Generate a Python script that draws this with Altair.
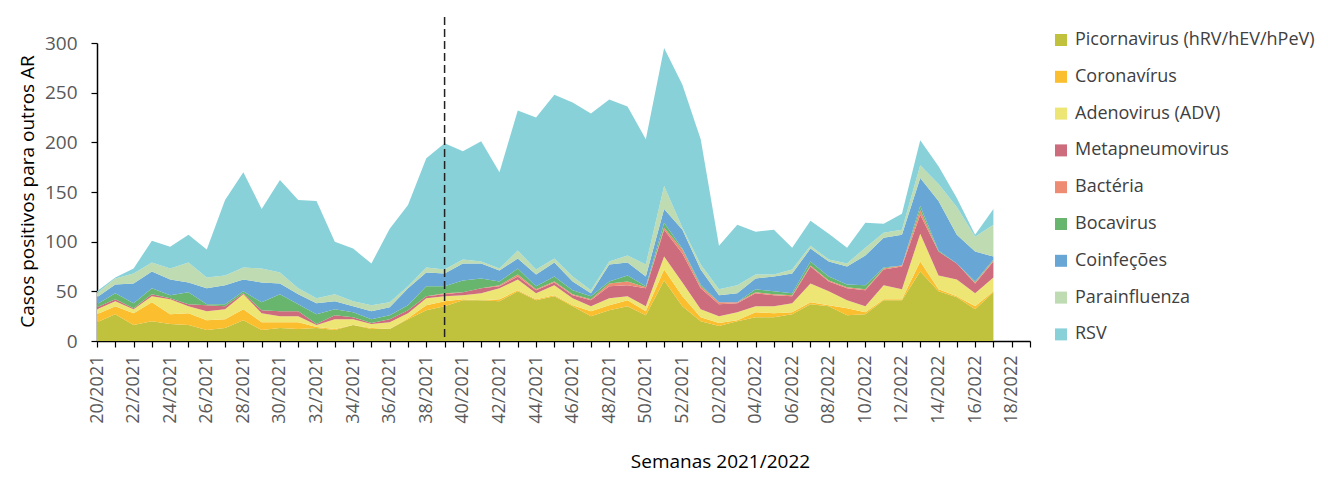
import altair as alt
import pandas as pd

weeks = ["20/2021", "21/2021", "22/2021", "23/2021", "24/2021", "25/2021", "26/2021", "27/2021",
         "28/2021", "29/2021", "30/2021", "31/2021", "32/2021", "33/2021", "34/2021", "35/2021",
         "36/2021", "37/2021", "38/2021", "39/2021", "40/2021", "41/2021", "42/2021", "43/2021",
         "44/2021", "45/2021", "46/2021", "47/2021", "48/2021", "49/2021", "50/2021", "51/2021",
         "52/2021", "01/2022", "02/2022", "03/2022", "04/2022", "05/2022", "06/2022", "07/2022",
         "08/2022", "09/2022", "10/2022", "11/2022", "12/2022", "13/2022", "14/2022", "15/2022",
         "16/2022", "17/2022", "18/2022", "19/2022"]

series_names = ["Picornavirus (hRV/hEV/hPeV)", "Coronavírus", "Adenovirus (ADV)", "Metapneumovirus",
                "Bactéria", "Bocavirus", "Coinfeções", "Parainfluenza", "RSV"]
colors = ["#C0C13C", "#FBBE2E", "#EDE675", "#CC6C7D", "#EE8C73", "#68B66E", "#68A6D6", "#BEDBB2", "#89D1D9"]

picornavirus = [19, 27, 16, 20, 17, 16, 11, 13, 21, 11, 13, 12, 13, 11, 16, 12, 12, 22, 31, 35,
                41, 41, 40, 50, 41, 45, 35, 25, 31, 35, 26, 61, 35, 20, 15, 20, 24, 24, 27, 37,
                35, 26, 27, 41, 41, 70, 50, 44, 32, 49]
coronavirus = [8, 8, 12, 19, 10, 12, 10, 9, 11, 8, 6, 7, 1, 1, 0, 1, 0, 1, 5, 5,
               1, 0, 2, 1, 1, 1, 1, 5, 5, 6, 4, 11, 10, 4, 3, 1, 5, 4, 2, 2,
               1, 7, 2, 1, 1, 10, 2, 1, 3, 1]
adenovirus = [5, 5, 4, 6, 15, 7, 9, 10, 15, 9, 6, 6, 2, 10, 6, 4, 7, 5, 7, 5,
              4, 7, 11, 11, 6, 10, 7, 5, 7, 4, 5, 13, 14, 8, 7, 8, 6, 7, 9, 19,
              14, 8, 6, 14, 10, 28, 14, 17, 13, 14]
metapneumovirus = [2, 2, 1, 2, 1, 2, 6, 3, 1, 3, 5, 5, 1, 4, 2, 1, 3, 3, 2, 2,
                   3, 5, 2, 3, 3, 3, 3, 6, 12, 11, 18, 27, 29, 21, 12, 9, 13, 11, 7, 17,
                   10, 12, 16, 16, 23, 19, 24, 16, 10, 16]
bacteria = [0, 0, 0, 0, 0, 0, 0, 0, 0, 0, 0, 0, 0, 0, 0, 0, 0, 0, 0, 1,
            0, 0, 1, 2, 1, 1, 1, 1, 3, 4, 1, 2, 4, 2, 2, 1, 1, 1, 1, 1,
            1, 1, 1, 1, 1, 5, 0, 0, 1, 1]
bocavirus = [3, 6, 5, 6, 3, 12, 1, 2, 2, 8, 17, 7, 10, 6, 5, 4, 4, 5, 10, 7,
             12, 10, 4, 6, 3, 5, 4, 3, 2, 6, 1, 5, 1, 2, 0, 0, 3, 3, 2, 4,
             4, 3, 4, 1, 0, 4, 1, 0, 1, 1]
coinfecoes = [7, 9, 20, 17, 16, 10, 16, 19, 12, 20, 11, 10, 11, 8, 6, 8, 8, 17, 14, 13,
              17, 15, 11, 10, 12, 14, 9, 3, 17, 13, 10, 14, 19, 15, 7, 9, 11, 15, 20, 13,
              15, 18, 30, 30, 31, 28, 50, 29, 30, 3]
parainfluenza = [4, 6, 10, 9, 11, 20, 11, 10, 12, 14, 11, 6, 5, 7, 5, 6, 5, 2, 5, 4,
                 4, 2, 2, 8, 5, 4, 5, 3, 3, 7, 12, 23, 2, 5, 6, 8, 4, 2, 4, 3,
                 2, 3, 8, 5, 5, 13, 17, 28, 15, 32]
rsv = [2, 1, 5, 22, 22, 28, 28, 76, 96, 60, 93, 89, 98, 53, 53, 42, 74, 82, 110, 127,
       109, 121, 97, 141, 153, 165, 175, 178, 163, 150, 126, 139, 144, 126, 44, 61, 43, 45, 22, 25,
       26, 16, 25, 9, 16, 25, 18, 9, 2, 16]

all_series = [picornavirus, coronavirus, adenovirus, metapneumovirus, bacteria,
              bocavirus, coinfecoes, parainfluenza, rsv]

rows = []
for k, (name, vals) in enumerate(zip(series_names, all_series)):
    for i, v in enumerate(vals):
        rows.append({"week": weeks[i], "series": name, "idx": k, "value": v})
df = pd.DataFrame(rows)

marker_week = ["39/2021"]

FONT = "Open Sans"

x_axis = alt.Axis(
    title="Semanas 2021/2022",
    labelAngle=-90,
    labelExpr="toNumber(slice(datum.value, 0, 2)) % 2 === 0 ? datum.value : ''",
    labelOverlap=False,
    labelFontSize=18,
    labelColor="#595959",
    labelFont=FONT,
    labelPadding=8,
    tickSize=6,
    tickColor="black",
    tickWidth=1.2,
    domainColor="black",
    domainWidth=1.5,
    titleFont=FONT,
    titleFontSize=19,
    titleFontWeight="normal",
    titleColor="black",
    titleX=623,
    titleY=126,
    titleBaseline="alphabetic",
    titleAlign="center",
    grid=False,
)

y_axis = alt.Axis(
    values=[0, 50, 100, 150, 200, 250, 300],
    title="Casos positivos para outros AR",
    titleFont=FONT,
    titleFontSize=19,
    titleFontWeight="normal",
    titleColor="black",
    titleAngle=-90,
    titleX=-79,
    titleY=148,
    titleBaseline="top",
    titleAlign="center",
    labelFontSize=19,
    labelFont=FONT,
    labelColor="#595959",
    labelPadding=14,
    tickSize=6,
    tickColor="black",
    tickWidth=1.2,
    domainColor="black",
    domainWidth=1.5,
    grid=False,
)

areas = alt.Chart(df).mark_area().encode(
    x=alt.X("week:O", scale=alt.Scale(type="point", domain=weeks, padding=0), axis=x_axis),
    y=alt.Y("value:Q", stack="zero", scale=alt.Scale(domain=[0, 300], nice=False), axis=y_axis),
    color=alt.Color(
        "series:N",
        scale=alt.Scale(domain=series_names, range=colors),
        legend=alt.Legend(
            title=None,
            orient="none",
            legendX=955,
            legendY=-12,
            symbolType="square",
            symbolSize=144,
            symbolStrokeWidth=0,
            symbolOpacity=1,
            labelFont=FONT,
            labelFontSize=18,
            labelColor="#404040",
            labelOffset=5,
            rowPadding=18.8,
            labelLimit=400,
        ),
    ),
    order=alt.Order("idx:Q", sort="ascending"),
)

rule = alt.Chart(pd.DataFrame({"week": marker_week})).mark_rule(
    color="#222222", strokeWidth=1.5, strokeDash=[8, 4]
).encode(
    x=alt.X("week:O"),
    y=alt.value(-26),
    y2=alt.value(298),
)

chart = alt.layer(areas, rule).properties(
    width=933,
    height=298,
    autosize=alt.AutoSizeParams(type="none"),
    padding={"left": 89, "top": 35, "right": 288, "bottom": 131},
).configure(font=FONT).configure_view(stroke=None)

chart.save("out.html", embed_options={"renderer": "svg", "actions": False})
